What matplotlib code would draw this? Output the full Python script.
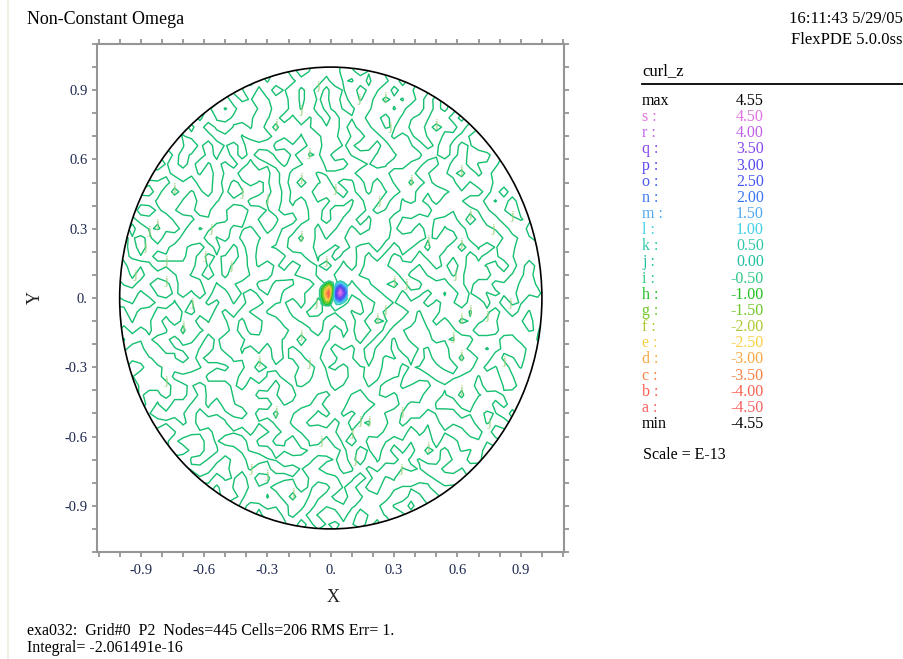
import numpy as np
import matplotlib
matplotlib.use('Agg')
import matplotlib.pyplot as plt
from matplotlib.patches import Circle
from matplotlib.lines import Line2D

plt.rcParams['font.family'] = ['Liberation Serif', 'DejaVu Serif']

W, H = 904, 659

# contour levels of curl_z (units of E-13)
level_names = list("srqponmlkjihgfedcba")
level_values = [4.5, 4.0, 3.5, 3.0, 2.5, 2.0, 1.5, 1.0, 0.5, 0.0,
                -0.5, -1.0, -1.5, -2.0, -2.5, -3.0, -3.5, -4.0, -4.5]
level_colors = ['#e070e0', '#c060e8', '#8848f0', '#5848f0', '#4858f0',
                '#3878f0', '#50a8f0', '#40d0e8', '#30c8a8', '#20c0a0',
                '#30c888', '#20c020', '#70c828', '#b0c830', '#f8d040',
                '#f8a840', '#f88040', '#f86050', '#f86060']
field_max = 4.55
field_min = -4.55

# round-off noise over the disk, one digit per node (value = digit - 4.5)
noise_rows = [
    "739182640 528173906 461537289 104635827 190463518 273645091",
    "182746593 650238917 049316285 827509134 396021758 465019283",
    "529610374 081657392 482190567 913740628 260583149 637481920",
    "406831752 906173849 251038672 945160382 749512063 817249305",
    "915273680 419382750 618493726 150834927 603849172 506138427",
    "260491837 573129064 852193746 081527364 918273046 152839470",
    "857130926 419384702 563184907 256139847 027361958 410293857",
    "392847105 716058324 652839471 904176283 465018293 580372619",
    "671503948 261930574 826103495 728139450 682731904 528163790",
    "048392761 530186947 972415038 615902837 384167259 026859143",
    "725968130 493815270 206758319 846027195 517392648 903146782",
    "150827493 640739182 893061547 215874039 960482731 374915086",
    "936471052 819463807 047385216 690251478 328607915 561239804",
    "482159763 035174098 761920354 403789621 185046293 720418536",
    "619703428 582091637 452809146 375281940 617203948 830146259",
    "304568192 746193850 271640389 527160483 085963412 719025384",
    "871320659 407852316 940738152 964703815 362710498 251804673",
    "246089375 129604783 152967418 035927416 978014325 604931827",
    "593712406 861423970 586019437 258160194 413568092 780253619",
    "068294531 705389246 173590261 483750261 290846713 359107842",
    "714536089 230947168 523816074 952301287 864501932 015734698",
    "431908762 458170629 345702198 364580917 526039184 947612350",
    "982657140 382645917 301496250 730829164 082375916 238501479",
    "127043859 671508326 493805749 162710395 749260813 560819237",
    "659380214 743926105 872146930 587432108 315974602 197438056",
    "305714962 886051479 326750184 293860471 960218537 824069351",
    "840162593 739287051 649302867 514398206 237150849 463195702",
    "276498305 151639480 275481936 027516948 581634920 709352164",
    "503821679 462073815 940267318 594628301 649703152 381925076",
    "961504728 318495260 378135692 047183526 908271643 652047189",
    "418273950 603758192 465720481 936039275 134856029 970315486",
    "084956137 229160438 576409123 857291648 302754961 118630574",
    "357029814 694081253 719362408 153806927 845019732 526973018",
    "790314685 072859341 208457139 604918352 617208394 093471526",
    "213870456 985143760 943016825 372459106 459631870 748250913",
    "648502193 310697824 057239614 891376045 023786415 136504289",
    "972641308 547302619 681945302 740152893 586140327 205816943",
    "105938627 806421597 324870156 215904638 971352604 684039172",
    "563017492 158390476 790532481 429683017 340569128 927146305",
    "829465031 491756208 216048937 063721584 208431957 350718246",
    "041726859 372014985 583169240 817450392 795624018 469253701",
    "386159204 965803417 047325968 504231679 163957802 812640539",
    "750283146 213647890 692480571 938167524 420813695 574098316",
    "217694538 830951264 318596402 261749083 807362549 039725148",
    "694307812 058427319 754013286 472905318 351284076 186349257",
    "438051967 642198035 129674850 085163794 649730512 750218634",
    "901468325 375906481 860341579 613928450 012679843 423956071",
    "165837290 724160593 437980612 948076235 586043129 391604728",
    "532791406 198472360 051829437 327604189 239715684 867132590",
    "876204153 403815927 624197085 756213840 704361295 205784316",
    "024563871 961730248 298361740 180942576 153892407 658421093",
    "749138602 285046179 513608294 634827051 971206358 012973645",
    "380627519 647592830 876245013 415069382 428650713 539680127",
    "613950248 019386752 340719568 903586214 685031947 784516902",
]
noise_x = np.linspace(-1.06, 1.06, 54)
noise_y = np.linspace(1.06, -1.06, 54)

# vortex core near the origin
core_x = [-0.06, -0.0425, -0.025, -0.0075, 0.01, 0.0275, 0.045, 0.0625, 0.08]
core_y = [0.08, 0.065, 0.05, 0.035, 0.02, 0.005, -0.01, -0.025, -0.04]
core_values = [
    [0, 0, 0, 0, 0, 0, 0, 0, 0],
    [0, 0, -0.6, -1.2, -0.6, 0.6, 1.2, 0.6, 0],
    [0, -0.6, -1.7, -2.7, -1.2, 1.7, 2.7, 1.7, 0.6],
    [0, -1.2, -2.7, -3.7, -1.7, 2.7, 4.2, 2.7, 1.2],
    [0, -1.2, -3.2, -4.55, -1.2, 3.2, 4.55, 3.2, 1.2],
    [0, -1.2, -2.7, -4.2, -0.6, 2.7, 3.7, 2.2, 0.6],
    [0, -0.6, -2.2, -2.7, 0, 1.7, 2.2, 1.2, 0],
    [0, -0.6, -1.2, -1.2, 0, 0.6, 0.6, 0, 0],
    [0, 0, 0, 0, 0, 0, 0, 0, 0],
]

line_color = '#14c070'
label_color = '#9fd07e'
frame_color = '#959595'
tick_color = '#1c2850'

fig = plt.figure(figsize=(W / 100, H / 100), dpi=100)
ax = fig.add_axes([97.5 / W, 1 - 552 / H, (564.5 - 97.5) / W, (552 - 44) / H])

disk = Circle((0, 0), 1.0, transform=ax.transData, facecolor='none')

Z = np.array([[int(c) - 4.5 for c in row.replace(' ', '')] for row in noise_rows])
cs = ax.contour(noise_x, noise_y, Z, levels=[0.0], colors=[line_color], linewidths=1.0)
cs.set_clip_path(disk)
labels = ax.clabel(cs, fmt={0.0: 'j'}, inline=False, fontsize=9.5, colors=label_color)
for t in labels:
    t.set_rotation(0)
    px, py = t.get_position()
    if px * px + py * py > 0.88:
        t.remove()

core_levels = [v for v in level_values[::-1] if v != 0.0]
core_cols = [c for v, c in zip(level_values[::-1], level_colors[::-1]) if v != 0.0]
ax.contour(core_x, core_y, np.array(core_values), levels=core_levels,
           colors=core_cols, linewidths=1.2)

ax.add_patch(Circle((0, 0), 1.0, facecolor='none', edgecolor='black', linewidth=1.2, zorder=5))

ax.set_xlim(-1.105, 1.107)
ax.set_ylim(-1.09, 1.098)
major = [-0.9, -0.6, -0.3, 0.0, 0.3, 0.6, 0.9]
major_labels = ['-0.9', '-0.6', '-0.3', '0.', '0.3', '0.6', '0.9']
minor = [i / 10 for i in range(-11, 12)]
ax.set_xticks(major)
ax.set_xticklabels(major_labels)
ax.set_yticks(major)
ax.set_yticklabels(major_labels)
ax.set_xticks(minor, minor=True)
ax.set_yticks(minor, minor=True)
ax.tick_params(which='both', direction='out', top=True, right=True,
               color=frame_color, width=1.3, labelsize=10.5, labelcolor=tick_color)
ax.tick_params(which='major', length=3.5)
ax.tick_params(which='minor', length=3.5)
ax.tick_params(axis='x', which='major', pad=5)
ax.tick_params(axis='y', which='major', pad=3.5)
for s in ax.spines.values():
    s.set_color(frame_color)
    s.set_linewidth(1.5)

fig.text(333 / W, 1 - 598 / H, 'X', fontsize=13, ha='center', va='center', color='#222222')
fig.text(35 / W, 1 - 298 / H, 'Y', fontsize=13, ha='center', va='center', rotation=90, color='#222222')

fig.text(27 / W, 1 - 20 / H, 'Non-Constant Omega', fontsize=13, ha='left', va='center')
fig.text(903 / W, 1 - 19 / H, '16:11:43 5/29/05', fontsize=12, ha='right', va='center')
fig.text(903 / W, 1 - 40 / H, 'FlexPDE 5.0.0ss', fontsize=12, ha='right', va='center')

fig.text(642 / W, 1 - 71 / H, 'curl_z', fontsize=12, ha='left', va='center')
fig.add_artist(Line2D([642 / W, 1.0], [1 - 84 / H, 1 - 84 / H], color='black', linewidth=1.3))

row_y0, row_dy = 101, 16.15
fig.text(642 / W, 1 - row_y0 / H, 'max', fontsize=11.5, ha='left', va='center')
fig.text(764 / W, 1 - row_y0 / H, '%.2f' % field_max, fontsize=11.5, ha='right', va='center')
for i, (name, val, col) in enumerate(zip(level_names, level_values, level_colors)):
    yy = 1 - (row_y0 + (i + 1) * row_dy) / H
    fig.text(642 / W, yy, name + ' :', fontsize=11.5, ha='left', va='center', color=col)
    fig.text(764 / W, yy, '%.2f' % val, fontsize=11.5, ha='right', va='center', color=col)
ymin = 1 - (row_y0 + 20 * row_dy) / H
fig.text(642 / W, ymin, 'min', fontsize=11.5, ha='left', va='center')
fig.text(764 / W, ymin, '%.2f' % field_min, fontsize=11.5, ha='right', va='center')
fig.text(643 / W, 1 - 455 / H, 'Scale = E-13', fontsize=11.5, ha='left', va='center')

fig.text(27 / W, 1 - 631 / H, 'exa032:  Grid#0  P2  Nodes=445 Cells=206 RMS Err= 1.',
         fontsize=11.5, ha='left', va='center')
fig.text(27 / W, 1 - 648 / H, 'Integral= -2.061491e-16', fontsize=11.5, ha='left', va='center')

fig.add_artist(Line2D([8 / W, 8 / W], [0, 1], color='#f3eee4', linewidth=1.5))

fig.savefig('out.png', dpi=100)
